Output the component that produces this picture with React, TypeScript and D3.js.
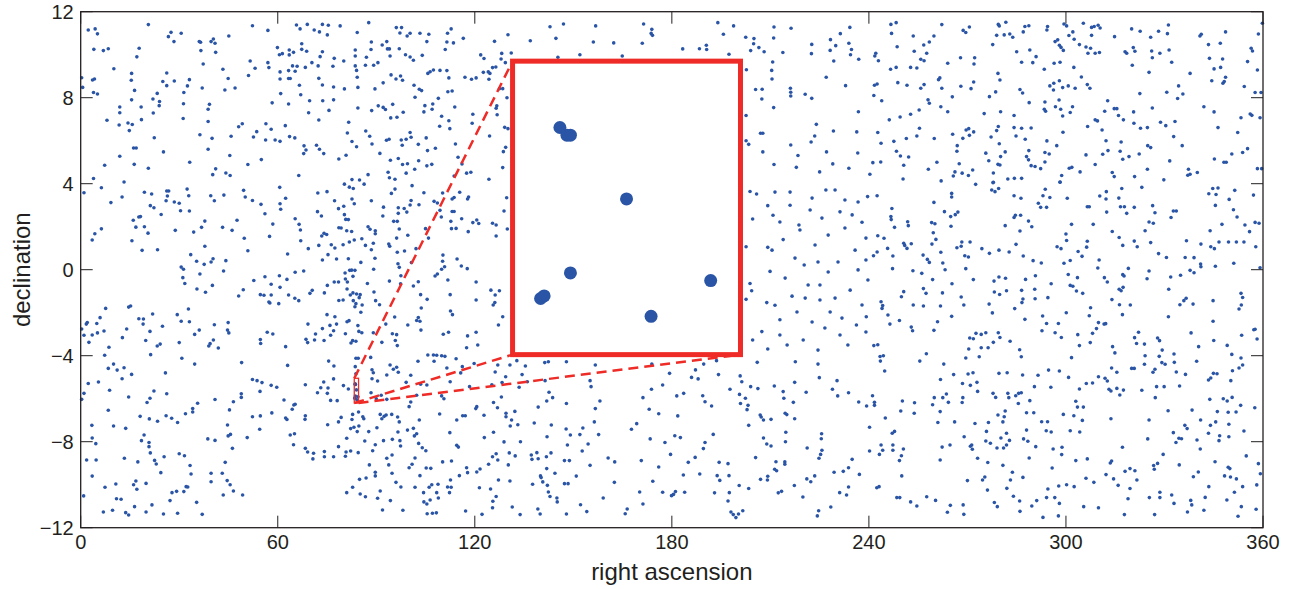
import React from "react";
import * as d3 from "d3";

// axis ticks
const raTicks = [0, 60, 120, 180, 240, 300, 360];
const decTicks = [-12, -8, -4, 0, 4, 8, 12];

// the small zoom window (around the Trapezium) and where its blow-up sits
const zoomRa = [83.3, 84.6];
const zoomDec = [-6.2, -5.05];
const insetRa = [131.5, 200.9];
const insetDec = [-3.95, 9.7];

// stars inside the zoom window
const trapezium = [
  [83.57, -5.31], [83.61, -5.34], [83.63, -5.34], [83.95, -5.59], [83.63, -5.88],
  [83.46, -5.98], [83.48, -5.97], [84.09, -6.05], [84.43, -5.91],
];

// catalogue stars
const starsNorthWest = [
  [2.3,11.15],[4.4,11.2],[5.1,10.97],[20.6,11.4],[26.7,10.84],[27.5,11.04],[28.4,10.61],[30.6,11.0],[4.0,10.25],[6.9,10.19],[8.4,10.28],[17.8,10.3],[17.1,9.9],[36.1,10.61],[36.5,10.58],[39.7,10.61],[40.4,10.73],[40.9,10.53],[41.1,10.11],[45.1,10.87],[36.6,10.19],[37.3,9.57],[52.3,11.35],[57.0,11.13],[65.7,11.38],[66.8,11.2],[69.0,11.41],[71.1,11.15],[72.7,11.06],[73.6,11.41],[75.1,10.92],[75.4,11.37],[79.0,11.34],[84.2,11.03],[87.7,11.49],[96.1,11.26],[97.7,11.26],[97.2,11.01],[99.4,10.87],[100.3,11.0],[103.3,11.0],[106.0,10.95],[105.4,10.61],[111.7,11.0],[112.8,11.2],[111.5,10.59],[113.5,10.55],[116.5,10.76],[67.3,10.51],[68.8,10.16],[67.3,10.25],[59.9,10.33],[60.5,10.0],[61.4,10.05],[63.5,10.22],[63.5,9.99],[64.8,10.11],[73.6,10.14],[72.9,9.91],[77.2,9.83],[80.1,9.71],[83.6,10.22],[83.6,9.94],[88.5,10.59],[88.4,10.24],[87.0,9.88],[91.8,10.45],[93.2,10.61],[93.4,10.27],[94.0,10.27],[94.2,9.94],[97.0,10.28],[98.9,10.0],[100.3,9.89],[101.3,9.74],[104.0,9.97],[111.0,10.24],
  [10.1,9.35],[15.5,9.13],[15.4,8.81],[0.3,8.93],[0.6,8.48],[3.6,8.82],[4.2,8.87],[3.9,8.24],[5.1,8.17],[16.4,8.34],[25.0,8.75],[26.2,9.15],[26.2,8.56],[28.5,8.78],[31.4,8.24],[32.5,8.55],[33.1,8.84],[37.0,8.45],[43.3,9.32],[44.9,8.89],[43.9,8.36],[47.0,8.45],[51.6,9.71],[53.1,9.37],[51.1,9.03],[57.0,9.63],[57.3,9.4],[60.7,9.2],[60.7,8.87],[63.3,9.26],[64.5,9.48],[65.3,9.23],[65.9,9.46],[63.3,8.89],[63.8,8.89],[68.4,9.41],[70.4,9.63],[72.3,9.48],[66.6,8.58],[72.5,8.9],[73.6,8.59],[76.8,9.46],[77.0,8.5],[80.3,8.41],[83.6,9.48],[84.0,9.27],[84.2,8.95],[84.4,8.48],[86.7,9.51],[89.2,9.51],[90.5,9.63],[94.5,9.06],[96.0,8.87],[97.4,9.01],[98.0,8.81],[92.1,8.69],[89.6,8.41],[101.5,8.58],[103.1,8.39],[103.8,8.33],[105.7,9.13],[106.4,9.21],[107.4,9.29],[109.4,9.27],[111.5,9.26],[112.1,8.92],[111.8,8.28],[113.1,8.31],[117.0,8.95],
  [11.9,7.57],[11.9,7.3],[15.5,7.9],[18.4,7.57],[22.0,7.94],[23.3,8.2],[24.0,7.82],[23.9,7.63],[22.1,7.29],[31.3,7.72],[39.2,7.69],[38.8,7.46],[58.3,7.76],[60.9,8.19],[63.3,7.71],[67.0,8.14],[69.7,7.86],[73.7,7.86],[77.0,7.9],[75.6,7.41],[69.4,7.3],[72.5,6.96],[84.4,7.52],[88.6,7.4],[90.6,7.62],[92.1,7.55],[92.8,7.45],[95.0,7.69],[94.4,7.06],[96.3,7.09],[98.2,7.32],[101.8,8.02],[104.8,7.63],[104.5,7.34],[107.2,7.71],[107.0,7.46],[108.9,7.97],[109.9,7.14],[112.1,6.93],[109.3,6.67],[112.4,6.56],[113.9,7.57],
  [8.0,6.95],[11.7,6.73],[14.4,6.82],[14.8,6.47],[15.7,6.75],[18.5,6.98],[31.2,7.03],[38.8,6.89],[36.3,6.28],[40.0,6.11],[22.4,6.14],[16.1,5.66],[16.9,5.66],[11.9,5.28],[25.2,5.48],[16.3,4.9],[7.3,4.86],[20.6,4.72],[33.2,5.0],[38.8,5.6],[41.1,4.69],[40.2,4.42],[44.2,4.5],[45.5,4.38],[45.4,5.31],[45.8,6.21],[48.1,6.65],[49.2,6.79],[53.6,6.42],[52.6,6.17],[56.4,6.79],[58.0,6.53],[62.3,6.7],[56.3,6.03],[59.2,6.03],[60.7,5.97],[63.6,6.19],[65.2,6.13],[68.0,5.76],[68.6,5.57],[67.9,5.4],[71.8,5.79],[72.7,5.6],[74.0,5.4],[78.6,5.15],[80.8,5.32],[81.2,6.36],[81.6,6.86],[82.6,5.96],[84.0,5.72],[86.8,6.45],[88.0,6.21],[88.7,5.85],[91.1,5.41],[93.1,6.02],[93.9,6.07],[97.6,6.03],[97.9,5.79],[99.1,6.07],[100.3,6.38],[100.6,6.16],[102.8,5.83],[105.2,6.13],[108.0,5.65],[105.6,5.54],[102.9,5.07],[105.4,4.83],[106.9,4.9],[96.7,5.17],[94.3,5.09],[98.0,4.89],[99.5,4.93],[99.1,4.49],[101.7,4.67],[93.6,4.53],[94.0,4.28],[95.7,4.21],[87.5,4.42],[82.6,4.19],[66.4,4.38],[50.9,4.89],[55.0,5.12],[3.9,4.24],[114.1,5.85],[114.9,5.23],[116.1,4.92],[117.5,4.49],[113.7,4.36],
  [120.4,8.92],[119.0,8.86],[119.4,7.23],[119.2,6.81],[118.8,4.53],
];

const starsWest = [
  [1.0,3.58],[6.3,3.81],[13.2,4.08],[9.2,3.12],[12.6,3.38],[3.5,1.38],[4.3,1.67],[6.3,1.9],[16.0,2.3],[17.7,2.45],[18.2,2.47],[16.8,1.98],[19.4,2.0],[20.5,1.7],[15.6,1.35],[18.7,0.9],[23.4,0.93],[19.4,3.6],[21.6,3.52],[21.2,2.98],[22.3,2.88],[24.5,2.57],[26.0,3.21],[26.4,3.43],[26.8,3.66],[26.2,3.66],[28.5,3.15],[30.0,3.09],[30.4,2.74],[32.4,3.75],[32.9,3.44],[33.1,2.73],[28.8,1.83],[34.4,1.75],[36.8,1.97],[37.8,2.26],[39.6,3.44],[40.7,3.21],[43.6,3.47],[43.2,1.97],[46.1,1.83],[47.6,2.3],[37.8,1.09],[33.5,0.7],[35.3,0.39],[36.3,-0.2],[37.6,0.25],[39.7,0.36],[40.3,0.51],[44.2,0.42],[43.5,-0.06],[30.6,0.12],[31.3,0.02],[31.1,-0.37],[31.7,-0.64],[35.4,-0.9],[38.0,-1.05],[40.1,-0.73],[49.5,-0.93],[48.1,-1.22],[52.7,-0.5],[49.6,3.69],[50.1,3.38],[52.3,3.22],[54.9,3.04],[56.1,2.6],[49.8,1.46],[50.9,0.88],[60.6,3.83],[60.7,3.07],[62.4,3.32],[60.9,2.81],[58.5,2.12],[57.5,1.55],[63.0,0.73],[65.3,2.37],[66.5,2.11],[66.9,1.85],[67.0,1.35],[69.3,0.98],[72.2,3.57],[75.0,3.63],[72.1,2.7],[73.3,2.5],[77.3,3.21],[78.5,2.84],[80.1,2.95],[80.3,2.56],[80.7,2.34],[81.5,2.33],[82.6,3.29],[83.0,3.78],[83.3,3.07],[80.3,3.98],[81.8,3.84],[84.9,4.17],[86.3,3.98],[88.5,3.21],[78.6,1.95],[79.3,1.94],[81.0,1.81],[82.5,1.78],[79.9,1.16],[77.4,1.01],[76.3,1.16],[73.4,1.57],[74.1,1.69],[74.9,1.64],[72.5,1.13],[75.3,0.7],[73.6,0.45],[77.9,0.5],[81.5,0.51],[81.8,1.29],[83.3,1.38],[85.3,0.34],[85.6,1.44],[86.7,1.13],[87.5,2.0],[88.1,1.88],[89.7,1.81],[89.7,1.67],[89.6,0.53],[89.1,1.23],[88.5,0.93],
  [92.0,2.5],[92.2,2.91],[94.6,3.55],[95.7,3.75],[95.3,2.25],[96.4,2.25],[97.0,1.89],[96.7,2.88],[96.7,2.62],[98.5,2.85],[99.3,2.68],[100.3,3.01],[100.6,3.22],[100.9,3.91],[103.0,3.02],[104.5,3.58],[105.0,1.91],[105.9,1.47],[107.6,3.18],[108.6,3.1],[109.4,2.76],[110.2,3.57],[109.8,2.45],[113.1,2.71],[113.7,2.71],[112.7,2.25],[112.9,1.91],[114.3,1.92],[113.1,3.29],[113.7,3.36],[115.4,3.6],[116.0,2.37],[117.8,3.29],[118.1,3.38],[118.0,1.77],[99.6,1.6],[96.2,1.47],[93.8,1.19],[94.1,1.09],[96.4,0.81],[98.6,0.87],[102.1,0.98],[100.7,0.33],[97.0,0.11],[96.6,0.28],[97.5,-0.28],[94.0,-0.53],[97.4,-0.65],[101.3,-0.76],[102.8,-0.56],[103.5,-1.16],[105.5,-1.38],[110.3,0.68],[110.2,0.39],[109.9,0.02],[110.8,0.14],[107.9,-0.29],[108.6,-0.2],[111.8,-0.48],[114.6,0.5],[115.9,0.17],[117.7,0.05],[112.5,-1.16],
  [60.5,-0.28],[60.7,-0.82],[56.1,-0.33],[58.0,-0.68],[54.7,-1.16],[55.8,-1.19],[58.0,-1.18],[57.3,-1.5],[57.6,-1.55],[60.3,-1.58],[63.3,-1.18],[65.2,-1.33],[66.4,-1.44],[62.8,-0.45],[65.3,-0.12],[67.9,-0.06],[69.8,-1.1],[70.5,-0.96],[74.2,-1.08],[75.1,-0.73],[77.2,-0.57],[78.5,-0.57],[80.6,-0.43],[80.5,-0.15],[81.9,-0.03],[82.5,-0.02],[83.5,-0.03],[82.9,-0.31],[81.2,-0.57],[81.1,-0.9],[82.1,-1.18],[82.9,-1.08],[84.0,-1.13],[85.1,-1.16],[84.8,-1.3],[83.0,-1.44],[83.8,-1.58],[83.5,-1.72],[85.7,-1.64],[78.6,-1.43],[79.9,-1.41],[89.3,-1.04],[89.8,-1.44],[91.0,-1.63],[85.3,-1.98],[87.3,-0.64],[89.2,0.02],[92.9,-2.53],[89.1,-2.93],[91.7,-3.38],[94.9,-2.98],[95.6,-2.2],[96.2,-3.02],[95.8,-3.29],[96.4,-3.53],[99.6,-2.57],[102.3,-2.36],[102.8,-2.22],[103.3,-2.4],[103.6,-2.81],[103.7,-1.78],[112.6,-1.92],[113.2,-2.09],[110.4,-3.0],[112.0,-2.91],[117.8,-3.08],[117.5,-3.63],
  [0.3,-2.76],[1.0,-3.05],[1.7,-2.53],[2.0,-2.46],[4.9,-2.5],[5.1,-2.94],[5.9,-2.23],[7.6,-1.8],[7.1,-2.85],[3.5,-3.04],[2.5,-3.38],[8.6,-3.61],[14.0,-2.76],[12.7,-3.16],[14.6,-1.74],[15.2,-1.69],[17.7,-2.28],[19.1,-2.29],[19.0,-2.53],[21.9,-2.06],[21.1,-2.87],[19.8,-3.29],[23.3,-3.55],[24.2,-3.46],[24.9,-2.63],[29.4,-2.09],[30.6,-2.4],[30.0,-3.39],[32.8,-1.83],[33.1,-2.42],[34.7,-3.01],[36.1,-2.81],[39.4,-3.44],[39.0,-3.55],[40.7,-2.56],[40.4,-3.27],[41.9,-3.64],[44.7,-2.81],[45.1,-2.94],[44.9,-2.46],[54.7,-3.25],[54.8,-3.43],[56.8,-2.91],[58.5,-2.99],[62.4,-3.58],[68.6,-3.24],[69.1,-3.39],[71.2,-3.27],[71.5,-2.99],[74.1,-3.29],[76.1,-3.05],[77.0,-2.84],[75.9,-2.59],[75.0,-2.09],[77.4,-2.19],[77.9,-2.53],[80.6,-2.98],[81.1,-2.42],[81.7,-2.37],[84.4,-2.6],[84.7,-2.87],[85.6,-2.93],[82.8,-3.3],[83.8,-3.33],[82.3,-3.41],[69.2,-2.53],[73.6,-2.74],
  [119.4,2.19],[120.6,2.31],[121.2,2.15],[120.4,-0.57],[120.4,-1.41],[120.4,-2.91],[120.9,-3.5],
];

const starsSouthWest = [
  [7.3,-3.98],[21.3,-3.95],[30.8,-4.12],[34.7,-4.39],[8.4,-4.59],[10.0,-4.39],[11.1,-4.67],[13.2,-4.56],[12.6,-5.07],[15.5,-4.87],[2.3,-5.29],[5.4,-5.22],[1.0,-5.75],[0.3,-6.03],[8.8,-5.61],[14.6,-5.92],[21.1,-5.98],[22.3,-5.64],[20.2,-6.18],[25.8,-4.8],[26.2,-5.77],[35.6,-6.21],[34.1,-6.46],[34.1,-6.62],[31.9,-6.7],[29.5,-7.11],[27.7,-6.91],[26.0,-6.79],[23.4,-7.05],[20.9,-6.94],[18.1,-6.82],[8.4,-6.54],[3.4,-7.24],[10.0,-7.27],[13.7,-7.38],[3.5,-7.83],[4.6,-8.09],[1.8,-8.85],[4.7,-8.85],[3.5,-9.6],[0.9,-10.52],[7.4,-10.12],[10.7,-9.97],[10.9,-10.65],[12.3,-10.68],[6.9,-11.27],[9.7,-11.19],[13.7,-11.3],[14.6,-11.41],[16.4,-11.02],[16.1,-10.0],[16.8,-9.83],[17.1,-10.21],[19.9,-9.94],[19.9,-11.27],[21.7,-10.94],[25.2,-11.36],[27.2,-10.74],[27.8,-10.37],[29.2,-10.31],[29.5,-11.33],[31.4,-10.32],[32.1,-10.09],[32.6,-10.11],[35.3,-10.82],[37.0,-11.38],[30.0,-8.56],[31.6,-8.65],[33.3,-9.11],[33.6,-9.5],[24.4,-9.44],[23.0,-9.04],[25.4,-8.7],[22.5,-8.87],[21.2,-8.52],[20.8,-8.23],[20.8,-8.04],[18.5,-7.95],[19.3,-7.69],[17.4,-8.94],[13.3,-8.77],[38.7,-7.87],[40.9,-7.94],[39.7,-9.47],[39.7,-9.86],[43.1,-9.47],[43.4,-10.48],[44.6,-9.81],[45.5,-10.0],[46.5,-10.29],[49.3,-10.48],[44.0,-8.96],[46.2,-8.31],[44.9,-7.73],[45.6,-7.66],[44.7,-7.22],[45.3,-6.52],[46.5,-6.14],[48.9,-5.77],[48.9,-5.94],[40.9,-6.04],[49.0,-4.32],
  [52.3,-5.11],[53.7,-5.16],[55.2,-5.25],[54.6,-5.66],[58.0,-5.38],[59.7,-5.47],[50.7,-7.81],[52.3,-6.84],[54.7,-6.8],[54.5,-7.42],[58.2,-6.66],[61.9,-6.06],[62.4,-6.9],[62.8,-6.97],[64.9,-6.29],[65.3,-6.26],[64.4,-6.49],[63.0,-4.45],[75.5,-4.25],[77.1,-4.48],[77.0,-5.08],[74.0,-5.22],[73.1,-5.49],[72.1,-5.72],[75.1,-5.75],[76.1,-6.08],[78.1,-6.09],[75.3,-5.5],[68.4,-5.35],[68.4,-6.79],[68.3,-6.96],[63.8,-7.69],[65.1,-7.63],[64.8,-8.14],[75.2,-7.21],[78.5,-7.08],[79.3,-6.87],[81.0,-7.84],[82.8,-6.73],[82.6,-6.97],[84.6,-6.62],[85.9,-6.84],[86.2,-6.93],[83.2,-7.33],[82.2,-7.39],[84.7,-7.27],[84.2,-7.53],[87.7,-7.53],[90.2,-7.35],[91.7,-6.93],[91.2,-6.73],[92.4,-6.82],[93.0,-6.76],[94.7,-6.73],[97.0,-7.08],[96.6,-7.55],[97.2,-7.95],[94.9,-7.89],[92.2,-7.95],[89.7,-8.14],[88.9,-8.42],[86.5,-7.97],[84.5,-8.51],[82.2,-8.43],[80.8,-8.48],[78.5,-8.23],[74.2,-8.46],[70.9,-8.54],[68.4,-8.31],[69.1,-8.48],[70.7,-8.8],[74.2,-8.7],[77.0,-8.7],[80.6,-8.68],[87.9,-9.08],[89.7,-9.42],[89.7,-9.59],[84.9,-9.75],[86.9,-9.69],[82.8,-10.12],[81.0,-10.37],[85.1,-10.43],[86.7,-10.56],[91.2,-10.29],[90.4,-10.63],[94.3,-10.74],[91.9,-11.18],[98.1,-11.19],
  [105.5,-11.35],[107.1,-11.33],[108.3,-11.31],[104.5,-10.8],[105.4,-10.9],[106.4,-10.71],[108.9,-10.62],[108.4,-10.37],[104.4,-10.37],[106.1,-10.12],[106.9,-10.0],[108.8,-9.98],[111.7,-10.11],[112.8,-10.12],[112.3,-10.37],[112.6,-9.78],[115.3,-9.58],[117.8,-9.44],[117.5,-9.21],[117.2,-11.22],[110.2,-8.94],[112.9,-8.9],[106.6,-9.24],[105.2,-9.22],[103.3,-9.58],[101.8,-10.12],[100.9,-9.05],[101.8,-8.76],[100.0,-9.21],[97.5,-10.11],[96.0,-9.89],[94.8,-9.47],[93.8,-9.08],[94.8,-8.62],[93.2,-8.77],[97.4,-8.2],[101.6,-7.73],[102.9,-8.08],[104.0,-8.28],[105.1,-8.42],[102.3,-7.63],[101.3,-7.38],[103.1,-6.99],[99.5,-7.46],[96.5,-6.85],[109.3,-6.71],[112.4,-7.58],[114.5,-6.99],[116.3,-6.79],[117.1,-6.79],[114.5,-8.17],[115.0,-8.25],[100.0,-6.37],[100.5,-6.15],[93.2,-6.03],[88.4,-5.72],[91.5,-5.84],[90.0,-6.0],[88.7,-5.07],[89.1,-4.79],[88.7,-4.65],[90.4,-5.18],[93.2,-4.9],[94.2,-4.43],[95.2,-4.63],[96.2,-4.54],[96.7,-4.77],[88.3,-4.08],[83.8,-4.12],[84.5,-4.12],[83.6,-4.51],[83.8,-4.84],[81.5,-5.55],[80.0,-5.39],[99.1,-5.24],[100.5,-4.91],[102.3,-5.84],[103.5,-5.33],[105.4,-5.36],[105.7,-3.97],[107.4,-3.97],[108.4,-3.98],[109.9,-4.0],[110.9,-4.03],[114.3,-4.14],[102.7,-4.26],[107.6,-4.26],[111.5,-4.57],[112.5,-5.21],[109.9,-5.87],[110.6,-6.0],[116.2,-4.51],[115.7,-4.8],[118.4,-5.44],
];

const starsNorthCentral = [
  [142.9,11.3],[147.0,11.43],[156.8,11.34],[171.4,11.43],[173.9,11.18],[173.7,10.99],[174.1,10.9],[136.9,10.65],[144.7,10.76],[156.1,10.59],[162.3,10.55],[171.0,10.53],[130.1,10.93],[126.0,10.62],[121.8,9.99],[122.8,9.82],[128.2,10.06],[131.1,10.08],[128.0,9.8],[129.3,9.63],[145.3,9.88],[152.0,10.0],[164.9,9.94],[122.6,9.18],[124.1,9.2],[124.6,9.13],[125.4,9.4],[126.4,9.43],[124.3,8.86],[127.5,8.42],[128.5,8.42],[129.8,8.0],[126.7,7.62],[126.5,7.51],[126.8,7.21],[124.5,6.22],[129.1,6.62],[130.1,6.56],[129.4,5.69],[128.7,5.49],[128.5,4.75],[124.3,4.21],
  [194.0,11.49],[198.8,11.34],[195.7,10.95],[211.1,11.29],[216.3,11.23],[202.5,10.81],[205.0,10.75],[204.9,10.51],[206.5,10.33],[208.1,10.14],[204.0,10.19],[211.0,10.78],[222.6,10.48],[228.3,10.7],[229.9,10.42],[231.3,10.98],[234.2,11.27],[233.9,10.53],[234.7,10.24],[234.4,10.0],[222.5,10.05],[228.2,10.2],[229.3,9.71],[213.8,10.1],[210.7,9.66],[197.4,10.02],[183.3,10.27],[188.4,10.28],[190.5,10.44],[190.6,10.24],[202.7,9.3],[210.4,9.27],[210.5,8.87],[205.5,8.38],[207.5,8.39],[207.4,7.94],[216.1,8.44],[216.2,8.25],[216.2,8.08],[220.6,8.16],[222.6,7.97],[211.0,7.54],[227.0,8.95],[232.9,8.56],[236.9,9.79],[236.8,7.35],[202.6,7.17],[207.0,6.35],[207.7,6.35],[202.6,6.0],[203.4,5.83],[207.7,5.48],[211.1,4.89],[216.2,5.8],[218.4,5.31],[217.9,4.76],[224.0,6.76],[223.5,6.22],[222.4,5.94],[227.1,5.48],[229.0,4.92],[229.2,6.45],[225.0,4.55],[233.9,4.72],[236.3,6.41],[236.6,5.43],
];

const starsInsetFlanks = [
  [125.4,2.16],[126.5,2.08],[126.5,1.57],[129.9,1.89],[128.9,2.73],[129.7,3.35],[124.9,-0.95],[126.2,-1.18],[127.5,-0.98],[126.1,-1.53],[125.6,-1.64],[128.5,-2.19],[127.2,-2.57],
  [203.8,3.64],[205.8,3.52],[209.2,2.98],[204.6,2.36],[202.6,1.07],[209.2,1.04],[203.8,-0.64],[204.3,-0.98],[202.6,-1.38],[208.9,-1.53],[207.4,-2.88],[204.6,-3.27],[209.2,-3.69],
];

const starsEquatorCentral = [
  [211.4,3.61],[216.0,3.0],[222.7,3.33],[229.7,3.71],[236.7,3.15],[212.9,2.22],[219.0,1.85],[225.7,2.4],[232.7,1.94],[239.1,1.47],[210.5,0.91],[217.5,0.54],[223.6,1.15],[230.6,0.36],[235.8,0.91],[214.5,-0.39],[221.5,-0.71],[227.6,-0.11],[234.3,-0.95],[239.7,-0.48],[211.4,-1.65],[218.1,-1.97],[225.1,-1.41],[231.8,-2.25],[237.9,-1.64],[212.9,-3.04],[220.0,-3.27],[226.6,-2.71],[233.6,-3.5],[239.1,-2.9],[216.0,3.61],[227.6,1.61],[222.7,-2.43],[236.7,-0.01],[209.9,-0.08],[229.7,-1.32],[220.3,0.22],[234.9,2.55],[224.5,-3.74],[215.1,-3.5],[232.7,3.24],[218.7,2.08],[226.9,3.71],[239.1,0.45],[212.9,-2.33],[231.2,-3.04],[222.1,2.78],[213.9,1.4],[224.5,0.36],[216.6,-1.23],[228.2,-1.97],[236.2,-2.57],[210.8,2.53],[231.2,2.69],[220.6,-1.32],[237.9,2.21],[225.1,-0.71],
];

const starsSouthCentral = [
  [119.8,-4.36],[127.0,-4.43],[130.7,-4.43],[132.8,-4.23],[135.4,-4.48],[141.3,-4.32],[142.4,-4.28],[147.9,-4.28],[156.7,-4.43],[173.9,-4.39],[189.7,-4.39],[193.6,-4.23],[126.2,-4.76],[125.2,-5.35],[128.3,-5.25],[129.4,-4.98],[134.4,-4.88],[133.5,-5.47],[136.0,-5.21],[141.4,-5.16],[155.1,-5.16],[155.4,-5.44],[120.6,-6.37],[120.3,-6.46],[122.8,-6.77],[125.7,-6.18],[126.9,-6.42],[128.1,-5.92],[129.5,-6.68],[129.5,-6.84],[132.2,-6.59],[131.2,-6.99],[130.8,-7.27],[133.1,-7.21],[138.1,-7.13],[139.3,-6.39],[141.9,-6.11],[142.6,-5.7],[143.7,-5.95],[147.9,-6.22],[156.7,-6.46],[158.1,-6.11],[156.4,-7.08],[122.9,-7.81],[125.7,-7.56],[128.9,-8.01],[133.9,-8.0],[142.0,-7.77],[143.3,-7.22],[147.8,-7.41],[149.1,-7.69],[152.0,-7.67],[152.9,-7.36],[154.5,-8.11],[157.7,-7.67],[152.7,-8.43],[148.2,-8.15],[147.3,-8.88],[148.8,-8.88],[155.1,-9.1],[150.9,-9.6],[160.6,-8.76],[162.6,-8.94],[126.5,-8.56],[125.4,-8.7],[127.0,-8.85],[124.2,-9.05],[120.6,-9.41],[121.6,-9.27],[130.5,-8.52],[132.3,-8.66],[130.2,-9.08],[137.2,-8.62],[137.4,-8.82],[138.9,-8.51],[139.3,-8.79],[143.2,-8.52],[141.8,-8.7],[141.9,-9.25],[144.4,-9.47],[140.0,-9.59],[140.2,-9.67],[137.6,-9.98],[140.7,-9.87],[142.1,-10.03],[142.4,-10.34],[142.9,-10.55],[145.0,-10.62],[145.1,-10.8],[147.3,-9.95],[148.4,-9.95],[127.2,-9.78],[130.7,-9.83],[121.4,-10.14],[124.8,-10.2],[126.5,-10.55],[125.5,-10.77],[125.4,-11.07],[131.4,-11.04],[133.8,-11.39],[139.2,-11.13],[139.9,-11.36],[122.2,-11.38],[147.9,-11.36],[152.2,-10.93],[154.1,-11.25],[159.1,-10.62],[162.5,-9.89],[165.8,-11.35],[166.4,-11.13],[171.2,-10.9],[170.2,-10.34],
  [167.7,-7.42],[169.3,-7.16],[171.2,-5.95],[173.8,-5.56],[173.1,-6.49],[176.0,-6.7],[177.2,-5.36],[179.3,-4.82],[181.5,-5.87],[183.6,-5.75],[181.8,-6.8],[173.4,-7.87],[177.9,-8.04],[180.9,-7.72],[182.6,-7.81],[179.6,-8.59],[170.7,-8.88],[176.0,-9.18],[174.2,-9.84],[177.2,-10.35],[179.9,-10.51],[180.5,-10.45],[181.1,-10.32],[183.9,-10.35],[183.5,-9.55],[185.0,-8.96],[187.1,-8.73],[188.5,-9.5],[189.6,-8.32],[190.1,-8.04],[192.6,-7.66],[194.4,-8.96],[197.1,-9.02],[193.8,-9.58],[194.6,-9.8],[197.4,-9.58],[193.0,-10.38],[197.5,-10.37],[197.1,-10.76],[198.0,-11.27],[198.7,-11.39],[199.5,-11.53],[200.3,-11.36],[201.6,-11.21],[200.5,-10.04],[203.4,-10.18],[205.5,-8.74],[207.0,-9.75],[209.2,-9.61],[209.1,-9.78],[210.2,-8.2],[208.9,-8.11],[207.9,-7.83],[211.7,-8.93],[214.4,-8.94],[214.4,-9.05],[211.3,-9.28],[211.9,-9.35],[212.4,-10.38],[213.4,-10.31],[217.3,-10.04],[219.9,-10.57],[221.1,-9.73],[222.3,-9.86],[223.5,-9.59],[224.8,-8.77],[225.3,-8.59],[225.7,-8.4],[225.5,-7.86],[225.6,-7.63],[221.2,-8.29],[214.7,-7.56],[214.6,-8.0],[214.5,-6.68],[215.0,-6.74],[214.1,-5.98],[213.9,-5.67],[217.0,-6.17],[217.4,-6.93],[220.9,-5.7],[224.9,-5.02],[224.5,-4.39],[217.6,-4.28],[217.4,-5.24],[211.2,-5.41],[206.0,-4.31],[206.2,-5.53],[204.0,-5.44],[203.2,-6.31],[202.9,-6.51],[203.4,-7.24],[202.4,-5.98],[200.9,-6.22],[200.6,-5.8],[200.8,-4.94],[201.3,-5.21],[197.7,-5.56],[194.2,-4.88],[192.1,-6.34],[190.1,-6.14],[189.4,-5.86],[188.0,-5.08],[186.0,-5.01],[187.2,-4.66],[228.9,-5.56],[230.3,-5.16],[230.5,-5.87],[233.8,-5.72],[236.9,-6.15],[234.9,-8.82],[233.8,-9.21],[232.2,-9.38],[229.4,-9.42],[237.1,-9.52],[233.8,-10.11],[231.1,-10.37],[233.2,-10.48],[228.4,-11.04],[224.7,-11.21],[224.3,-11.45],[207.9,-6.99],[210.2,-6.96],[206.9,-6.76],[207.2,-6.85],
];

const starsNorthEast = [
  [246.7,11.41],[248.3,11.49],[246.9,10.99],[253.5,10.87],[248.6,10.37],[256.7,10.45],[258.4,10.59],[259.8,10.87],[262.2,11.4],[268.7,11.13],[269.5,11.03],[270.6,11.29],[279.4,11.41],[279.7,11.34],[281.7,11.51],[278.9,10.9],[281.2,10.92],[282.9,10.96],[283.8,10.81],[287.0,11.06],[287.5,11.31],[288.7,11.35],[294.4,11.31],[294.2,11.15],[299.4,11.43],[300.2,11.34],[300.9,10.89],[302.1,11.06],[302.5,10.72],[305.3,11.46],[307.8,11.27],[308.6,11.31],[309.8,11.37],[310.4,11.24],[307.8,10.9],[314.8,10.84],[320.0,11.2],[322.6,11.09],[325.8,10.81],[328.2,11.09],[330.9,10.98],[331.2,11.38],[340.8,10.87],[341.2,10.95],[348.6,11.06],[359.8,11.46],[358.6,10.96],[277.7,10.47],[285.0,10.14],[289.0,10.22],[290.9,9.91],[286.5,9.65],[289.9,9.63],[293.4,9.32],[296.7,10.61],[297.5,10.69],[298.0,10.44],[298.5,10.34],[299.2,10.2],[304.1,10.47],[306.1,10.36],[307.5,10.3],[306.7,10.07],[308.9,10.07],[310.2,10.1],[296.4,9.6],[298.2,9.65],[302.4,9.41],[242.1,10.07],[241.8,9.94],[242.9,9.72],[246.6,9.32],[248.3,9.41],[253.8,10.16],[255.8,9.79],[256.8,9.72],[257.6,10.07],[252.7,9.41],[254.6,9.38],[264.0,9.6],[267.9,9.86],[272.2,9.86],[272.0,9.57],
  [241.7,8.58],[242.5,8.64],[241.5,8.1],[243.9,7.86],[248.8,8.7],[251.6,8.58],[255.8,8.44],[256.8,8.61],[261.2,8.84],[261.6,8.92],[262.2,8.44],[258.0,7.9],[258.4,7.74],[261.9,7.58],[268.0,8.53],[271.1,8.42],[271.9,8.73],[265.4,8.04],[264.0,7.35],[275.1,7.26],[276.7,8.05],[279.3,9.13],[279.9,8.82],[278.6,8.27],[280.1,7.35],[284.2,7.17],[286.0,8.38],[286.8,8.22],[288.8,7.77],[296.3,8.67],[295.1,8.55],[298.0,8.79],[299.0,8.47],[300.7,8.55],[302.8,8.44],[296.2,8.36],[304.7,8.96],[306.5,8.61],[307.3,8.44],[293.6,7.8],[293.4,7.46],[293.8,7.37],[296.8,7.58],[297.9,7.89],[298.4,7.46],[299.0,7.15],[301.3,7.31],[302.0,7.58],
  [242.7,6.38],[243.7,5.88],[246.2,6.97],[249.5,7.1],[252.7,7.23],[255.3,7.43],[255.4,6.58],[254.6,6.22],[251.4,6.1],[247.6,5.97],[248.4,5.51],[249.6,5.29],[252.1,5.24],[250.6,4.86],[241.2,4.98],[243.6,5.01],[240.3,4.44],[250.4,4.22],[258.1,4.67],[260.7,5.0],[262.0,4.13],[259.9,6.1],[265.5,6.3],[266.9,5.77],[266.8,5.51],[267.5,4.93],[265.7,4.36],[266.2,4.55],[268.4,4.49],[270.3,4.38],[271.6,4.64],[268.6,6.11],[269.6,6.5],[270.4,6.56],[270.6,6.25],[271.9,6.41],[277.2,6.17],[278.9,6.47],[279.4,6.66],[279.7,5.86],[275.6,5.42],[276.5,5.07],[277.9,4.5],[277.9,4.07],[279.3,4.9],[279.9,4.87],[280.1,5.26],[281.5,5.48],[284.2,6.61],[284.8,6.22],[286.5,6.58],[287.6,6.07],[289.4,6.59],[288.7,5.54],[288.0,5.26],[288.6,5.11],[289.4,4.84],[290.6,4.8],[292.3,4.7],[293.6,5.45],[294.9,5.38],[294.2,5.99],[293.6,5.01],[297.2,5.77],[298.7,4.38],[298.2,4.07],[299.1,6.39],[284.3,4.25],[286.5,4.25],[282.3,4.22],[301.0,4.72],[301.8,4.76],[304.3,4.55],[306.1,5.34],[308.9,4.89],[306.6,6.66],[308.9,6.97],[309.6,6.92],[311.0,6.5],[311.8,7.37],[312.7,7.86],[312.2,6.0],[311.2,5.37],[312.8,5.54],[314.7,7.49],[315.5,7.49],[316.8,5.94],[316.5,5.51],[317.3,5.14],[319.2,5.26],[317.5,6.97],[316.0,7.17],[320.6,7.34],[320.7,6.81],[322.7,6.58],[324.8,6.61],[322.3,5.38],[324.9,5.77],[325.8,5.68],[324.8,4.67],[320.9,4.33],[314.1,4.52],[314.7,4.33],
  [328.8,6.86],[330.4,6.7],[333.2,6.89],[332.8,6.19],[335.4,5.77],[331.6,5.06],[329.8,4.18],[337.3,4.67],[337.1,4.39],[337.8,4.44],[340.0,4.52],[345.2,5.15],[348.1,5.0],[348.8,5.0],[350.5,5.38],[353.8,5.45],[355.3,5.63],[352.3,6.38],[353.3,7.07],[356.1,7.24],[356.6,7.18],[359.1,7.07],[346.3,6.61],[345.1,7.34],[342.0,7.58],[344.4,8.79],[347.8,8.67],[348.2,8.75],[348.6,8.95],[347.1,9.41],[345.1,9.34],[347.7,9.8],[343.7,9.83],[343.4,10.47],[347.0,10.53],[354.3,8.52],[355.3,9.68],[356.4,10.3],[356.8,10.17],[358.3,9.29],[357.6,8.24],[359.4,8.24],[358.3,4.7],[359.6,4.7],[337.8,9.13],[334.3,8.55],[335.6,8.17],[334.0,7.96],[330.7,8.25],[332.2,9.65],[331.4,10.22],[325.3,9.18],[326.3,9.86],[326.1,10.17],[320.5,10.33],[321.0,10.16],[318.0,10.14],[318.5,10.07],[320.2,9.51],[322.5,8.19],[326.3,7.52],[328.6,10.07],
];

const starsEast = [
  [239.6,3.4],[242.5,3.44],[272.5,3.97],[277.8,4.05],[277.4,3.71],[278.4,3.63],[279.5,3.78],[284.2,3.44],[286.3,3.32],[298.2,4.08],[317.0,3.78],[323.1,3.83],[293.0,3.44],[293.7,3.74],[295.1,3.36],[300.4,3.32],[291.6,3.09],[292.3,2.9],[294.1,2.9],[310.3,3.43],[312.3,3.63],[312.2,3.29],[316.1,3.33],[316.6,2.93],[317.8,2.93],[320.8,2.9],[312.4,2.68],[318.5,2.62],[326.4,2.98],[327.1,2.65],[343.5,3.53],[344.7,3.78],[346.3,3.8],[345.7,3.5],[351.4,3.69],[349.7,3.27],[357.1,3.47],[345.5,2.99],[351.0,2.79],[352.1,2.45],[347.5,2.11],[354.5,2.08],[355.9,1.77],[357.6,2.2],[358.8,2.16],[343.9,1.81],[346.6,1.29],[345.2,0.98],[344.1,1.07],[349.5,1.29],[351.9,1.29],[354.2,1.29],[357.8,1.07],[341.1,1.19],[336.7,1.35],[332.0,2.43],[332.7,2.73],[333.6,2.73],[326.6,2.16],[325.3,2.22],[324.1,1.81],[325.8,1.26],[328.2,0.75],[330.6,0.57],[321.7,1.07],[320.8,1.33],[316.2,1.5],[317.3,1.13],[314.1,1.78],[308.3,2.11],[306.5,2.93],[307.1,2.93],[301.7,2.11],[300.0,1.66],[300.2,1.36],[297.3,1.07],[298.5,0.98],[289.6,2.0],[288.6,2.26],[286.2,2.53],[284.6,2.53],[284.2,2.43],[286.0,1.8],[284.8,1.18],[281.5,2.05],[282.7,0.82],[279.6,0.91],[276.7,0.76],[274.4,0.98],[270.8,1.29],[268.3,1.29],[268.1,1.09],[266.8,1.02],[269.2,0.65],[270.3,0.59],[269.5,0.05],[265.0,2.02],[264.9,2.47],[266.3,2.56],[267.1,2.68],[265.2,3.55],[265.2,3.38],[263.0,2.7],[259.8,3.13],[259.1,2.19],[260.1,2.14],[259.6,1.72],[260.4,1.41],[259.2,1.19],[261.9,0.81],[262.5,0.31],[263.2,0.0],[256.5,0.68],[257.8,0.48],[258.4,0.34],[253.4,-0.05],[256.1,-0.17],[259.4,-0.46],[252.9,1.21],[250.6,1.23],[250.9,1.13],[251.6,0.99],[245.7,0.99],[247.3,0.64],[247.2,0.05],[244.6,1.46],[242.7,1.58],[242.5,0.82],[241.4,0.65],[247.8,1.97],[246.8,2.33],[246.7,2.47],[247.0,2.85],[251.8,2.23],[252.0,2.05],
  [253.5,-1.64],[256.6,-1.69],[249.9,-1.26],[250.6,-1.02],[256.6,-0.88],[257.4,-1.1],[262.4,-1.08],[261.8,-1.69],[265.3,-0.65],[268.1,-1.27],[268.9,-1.64],[271.8,-0.46],[276.6,-1.6],[277.6,-2.01],[278.1,-0.53],[279.6,-0.34],[281.6,-0.4],[278.2,-1.04],[279.8,-1.15],[281.9,-0.98],[286.5,-0.96],[286.9,-1.36],[286.6,-1.53],[284.4,-1.81],[287.5,-2.31],[287.7,-0.45],[290.7,-0.28],[292.5,0.31],[290.0,0.42],[287.0,0.64],[290.5,-0.91],[290.6,-1.35],[294.5,-1.3],[295.5,-0.65],[292.9,-2.15],[294.1,-2.5],[292.7,-2.84],[297.7,-2.5],[296.7,-2.93],[298.6,-3.15],[300.1,-2.0],[300.7,-0.22],[303.5,-0.37],[303.2,-0.99],[305.1,-1.1],[302.1,-0.77],[301.3,-0.73],[301.3,0.43],[299.4,0.3],[303.7,0.85],[304.9,0.62],[306.5,1.32],[306.3,1.05],[310.1,0.45],[309.7,0.08],[311.7,-0.37],[312.6,-0.57],[317.3,-0.23],[317.7,-0.29],[319.0,0.06],[317.4,-0.82],[316.8,-0.98],[316.2,-0.91],[314.0,-1.39],[316.3,-1.63],[317.2,-2.09],[319.6,-1.64],[325.3,-0.06],[324.7,-0.42],[331.3,-0.91],[331.9,-0.34],[334.9,-0.26],[337.8,-0.03],[339.0,-0.14],[341.1,0.14],[341.0,0.26],[336.3,0.57],[339.0,0.56],[334.7,-1.63],[336.6,-1.33],[335.9,-1.44],[338.7,-1.6],[344.8,-1.44],[345.5,0.16],[351.1,0.3],[353.3,-1.1],[353.8,-1.29],[352.7,-1.83],[357.2,-2.79],[353.5,-3.05],[358.2,-3.22],[344.8,-2.4],[345.0,-3.29],[349.1,-3.52],[340.4,-3.58],[338.1,-2.94],[331.2,-2.19],[327.9,-3.18],[328.5,-3.3],[329.3,-3.74],[322.1,-2.91],[320.9,-3.16],[321.5,-3.43],[323.9,-3.46],[314.2,-3.58],[311.6,-2.53],[309.9,-2.46],[312.1,-2.51],[309.3,-2.74],[308.1,-2.96],[307.4,-3.39],[307.5,-1.77],[307.1,-2.14],[304.1,-3.53],[303.6,-3.02],[285.9,-3.72],[283.0,-3.33],[279.4,-2.93],[279.9,-3.15],[277.9,-3.38],[275.6,-2.93],[274.2,-3.01],[276.3,-3.63],[274.2,-3.63],[272.6,-2.96],[271.8,-3.21],[270.7,-3.18],[270.4,-3.69],[265.2,-2.17],[259.8,-2.82],[260.9,-2.42],[253.3,-2.84],[252.9,-2.67],[249.3,-2.36],[245.8,-2.11],[246.4,-2.53],[243.7,-1.49],[244.2,-1.67],[244.0,-1.8],[239.2,-2.19],[241.5,-3.53],[242.7,-3.49],[359.1,0.09],[357.6,-2.77],[353.4,-1.64],
];

const starsSouthEast = [
  [243.4,-4.04],[244.4,-4.0],[243.5,-4.25],[244.8,-4.71],[255.5,-4.25],[257.5,-3.91],[262.8,-4.39],[269.5,-4.11],[273.6,-4.05],[286.4,-4.05],[301.7,-4.09],[314.9,-3.87],[324.1,-4.0],[328.4,-4.03],[332.9,-3.92],[339.8,-4.26],[350.5,-3.94],[353.3,-4.11],[353.8,-4.43],[352.7,-4.57],[350.7,-4.7],[350.2,-5.16],[343.4,-5.13],[344.1,-5.04],[344.9,-4.82],[346.0,-4.84],[336.4,-4.87],[333.6,-4.76],[334.6,-5.41],[329.9,-5.44],[327.6,-5.44],[327.2,-5.95],[326.5,-4.77],[327.1,-4.63],[329.2,-4.32],[330.2,-4.4],[323.9,-4.4],[333.0,-4.31],[320.8,-4.59],[320.0,-4.59],[313.9,-4.57],[315.5,-4.77],[309.9,-4.98],[311.9,-5.05],[312.6,-5.18],[313.1,-5.56],[315.5,-5.52],[317.5,-5.6],[316.4,-5.83],[323.1,-5.61],[308.1,-5.27],[306.2,-5.29],[304.1,-5.55],[300.8,-5.01],[298.0,-4.71],[294.7,-4.67],[291.5,-4.91],[295.4,-5.47],[290.4,-5.44],[286.8,-4.9],[282.1,-4.79],[279.6,-4.82],[272.9,-5.24],[270.9,-5.38],[270.2,-4.85],[271.7,-4.79],[268.5,-5.29],[265.8,-4.88],[261.8,-5.11],[259.9,-5.95],[262.5,-5.95],[263.6,-5.78],[264.2,-6.17],[268.6,-5.95],[268.4,-6.18],[273.1,-5.66],[277.8,-5.75],[278.6,-5.94],[282.3,-5.75],[282.6,-5.95],[284.7,-5.86],[285.6,-5.75],[286.4,-5.72],[285.5,-6.22],[289.0,-6.09],[288.0,-6.65],[290.2,-6.65],[292.6,-7.07],[294.4,-7.07],[288.0,-7.46],[287.1,-7.87],[288.4,-7.98],[294.0,-7.49],[295.5,-7.55],[290.8,-8.23],[288.8,-8.76],
  [281.5,-6.57],[281.2,-6.84],[279.3,-6.76],[280.8,-7.08],[281.9,-7.61],[282.8,-7.94],[280.2,-7.83],[281.9,-8.15],[281.0,-8.29],[279.0,-8.29],[277.0,-8.07],[275.6,-7.97],[276.4,-7.11],[275.8,-7.52],[272.3,-7.15],[269.0,-7.77],[270.9,-8.21],[271.5,-8.35],[271.3,-8.15],[266.1,-7.08],[261.0,-7.11],[261.7,-6.6],[259.4,-6.28],[253.9,-6.19],[253.8,-6.68],[249.7,-6.57],[250.2,-6.11],[245.0,-6.9],[241.7,-6.17],[241.7,-6.31],[239.3,-6.34],[241.1,-5.86],[240.2,-7.33],[247.8,-7.52],[247.1,-7.61],[243.7,-8.15],[244.2,-8.4],[243.2,-8.59],[247.3,-8.15],[247.3,-8.4],[250.5,-8.34],[249.9,-8.65],[249.3,-8.88],[250.0,-9.59],[240.2,-8.43],[242.4,-10.14],[243.1,-10.09],[248.5,-10.6],[249.4,-10.6],[252.7,-10.8],[254.6,-10.99],[257.6,-10.56],[260.3,-10.73],[261.7,-8.85],[262.3,-8.25],[264.7,-8.15],[263.9,-11.28],[264.8,-10.96],[268.7,-10.94],[268.9,-11.38],[270.0,-9.81],[273.1,-8.77],[274.6,-9.78],[275.3,-9.64],[276.2,-8.97],[276.1,-10.25],[278.2,-10.83],[279.1,-11.02],[280.8,-9.1],[282.0,-10.17],[283.1,-9.78],[283.7,-9.42],[284.0,-10.54],[285.9,-10.76],[286.9,-9.66],[286.0,-11.24],[289.6,-10.99],[291.1,-10.74],[294.1,-10.6],[294.5,-10.2],[296.6,-10.6],[297.8,-10.06],[298.0,-10.87],[297.7,-11.45],[293.0,-11.52],[295.8,-9.22],[296.1,-8.34],[298.8,-8.26],[298.7,-8.6],[300.2,-10.0],[302.5,-10.09],[303.0,-8.88],[306.5,-8.8],[306.1,-9.7],[308.5,-9.89],[305.4,-11.02],[309.9,-11.07],[312.2,-9.53],[313.5,-8.99],[313.9,-8.9],[314.5,-9.73],[315.9,-10.03],[318.0,-9.38],[319.5,-9.25],[321.0,-9.35],[321.6,-9.78],[319.5,-10.18],[318.9,-10.65],[317.8,-11.39],[317.2,-8.26],[313.7,-6.93],[313.7,-5.64],[302.4,-6.79],[305.3,-6.39],[303.5,-6.39],[303.0,-6.12],[299.2,-6.73],[301.3,-7.49],[304.2,-7.55],[305.0,-7.01],
  [324.9,-7.87],[325.3,-6.99],[326.7,-9.11],[326.9,-9.28],[327.9,-9.01],[329.6,-8.59],[325.4,-10.6],[328.6,-10.35],[328.6,-10.6],[327.0,-11.39],[332.2,-10.48],[332.9,-10.87],[334.5,-9.08],[332.7,-7.58],[333.5,-8.04],[334.4,-7.84],[335.2,-7.86],[336.2,-7.24],[336.9,-7.39],[339.9,-7.92],[340.9,-8.34],[340.3,-9.41],[338.8,-9.63],[338.0,-10.73],[338.3,-10.94],[337.0,-11.27],[342.0,-11.19],[342.4,-10.59],[343.5,-10.09],[345.4,-8.93],[348.3,-9.59],[349.4,-9.19],[349.9,-9.25],[350.1,-9.64],[351.9,-9.73],[353.8,-10.09],[351.3,-10.35],[349.0,-10.71],[353.4,-11.02],[352.4,-11.47],[358.1,-10.01],[357.9,-11.14],[359.2,-9.49],[358.6,-9.02],[354.9,-8.66],[354.2,-7.5],[349.6,-7.19],[349.6,-7.77],[346.8,-7.72],[346.6,-7.95],[345.6,-7.08],[344.0,-7.24],[343.4,-7.61],[341.0,-6.99],[338.4,-6.53],[331.1,-6.56],[343.8,-6.03],[347.9,-6.0],[349.1,-6.11],[350.6,-5.94],[353.2,-6.31],[357.5,-6.42],[346.1,-6.6],[349.4,-6.63],[351.8,-6.62],
];

const allStars = [
  ...starsNorthWest, ...starsWest, ...starsSouthWest,
  ...starsNorthCentral, ...starsInsetFlanks, ...starsEquatorCentral, ...starsSouthCentral,
  ...starsNorthEast, ...starsEast, ...starsSouthEast, ...trapezium,
];

const width = 1296;
const height = 589;
const margin = { top: 11.7, right: 33, bottom: 61.3, left: 80.7 };
const blue = "#2a55a6";
const red = "#ee2b26";
const ink = "#231f20";
const font = "'Liberation Sans', Arial, Helvetica, sans-serif";

export default function App() {
  const x = d3.scaleLinear().domain([0, 360]).range([margin.left, width - margin.right]);
  const y = d3.scaleLinear().domain([-12, 12]).range([height - margin.bottom, margin.top]);
  // inset scales: zoom window -> blown-up box
  const ix = d3.scaleLinear().domain(zoomRa).range([x(insetRa[0]), x(insetRa[1])]);
  const iy = d3.scaleLinear().domain(zoomDec).range([y(insetDec[0]), y(insetDec[1])]);
  const fmt = d3.format("d");
  const tickLen = 12;

  const connectors = [
    [zoomRa[0], zoomDec[1], insetRa[0], insetDec[1]],
    [zoomRa[0], zoomDec[0], insetRa[0], insetDec[0]],
    [zoomRa[1], zoomDec[0], insetRa[1], insetDec[0]],
  ];

  const x0 = x(0), x1 = x(360), y0 = y(-12), y1 = y(12);

  return (
    <div style={{ position: "absolute", left: 0, top: 0 }}>
      <svg width={width} height={height} style={{ display: "block", background: "#fff" }}>
        <rect x={0} y={0} width={width} height={height} fill="#fff" />
        <g>
          {allStars.map((d, i) => (
            <circle key={i} cx={x(d[0])} cy={y(d[1])} r={1.8} fill={blue} />
          ))}
        </g>
        <rect
          x={x(zoomRa[0])} y={y(zoomDec[1])}
          width={x(zoomRa[1]) - x(zoomRa[0])} height={y(zoomDec[0]) - y(zoomDec[1])}
          fill="none" stroke={red} strokeWidth={1.3}
        />
        {connectors.map((c, i) => (
          <line key={i} x1={x(c[0])} y1={y(c[1])} x2={x(c[2])} y2={y(c[3])}
            stroke={red} strokeWidth={2.5} strokeDasharray="10,6" />
        ))}
        <rect
          x={x(insetRa[0])} y={y(insetDec[1])}
          width={x(insetRa[1]) - x(insetRa[0])} height={y(insetDec[0]) - y(insetDec[1])}
          fill="#fff" stroke={red} strokeWidth={5}
        />
        {trapezium.map((d, i) => (
          <circle key={i} cx={ix(d[0])} cy={iy(d[1])} r={6.5} fill={blue} />
        ))}

        {/* axes box */}
        <rect x={x0} y={y1} width={x1 - x0} height={y0 - y1} fill="none" stroke={ink} strokeWidth={1.3} />
        {raTicks.map((t) => (
          <g key={"rt" + t}>
            <line x1={x(t)} x2={x(t)} y1={y0} y2={y0 - tickLen} stroke={ink} strokeWidth={1} />
            <line x1={x(t)} x2={x(t)} y1={y1} y2={y1 + tickLen} stroke={ink} strokeWidth={1} />
            <text x={x(t)} y={y0 + 21} textAnchor="middle" fontFamily={font} fontSize={20} fill={ink}>
              {fmt(t)}
            </text>
          </g>
        ))}
        {decTicks.map((t) => (
          <g key={"dt" + t}>
            <line x1={x0} x2={x0 + tickLen} y1={y(t)} y2={y(t)} stroke={ink} strokeWidth={1} />
            <line x1={x1} x2={x1 - tickLen} y1={y(t)} y2={y(t)} stroke={ink} strokeWidth={1} />
            <text x={x0 - 7} y={y(t)} dy="0.35em" textAnchor="end" fontFamily={font} fontSize={20} fill={ink}>
              {fmt(t)}
            </text>
          </g>
        ))}
        <text x={(x0 + x1) / 2} y={580} textAnchor="middle" fontFamily={font} fontSize={24} fill={ink}>
          right ascension
        </text>
        <text transform={`translate(30,${(y0 + y1) / 2}) rotate(-90)`} textAnchor="middle"
          fontFamily={font} fontSize={24} fill={ink}>
          declination
        </text>
      </svg>
    </div>
  );
}
